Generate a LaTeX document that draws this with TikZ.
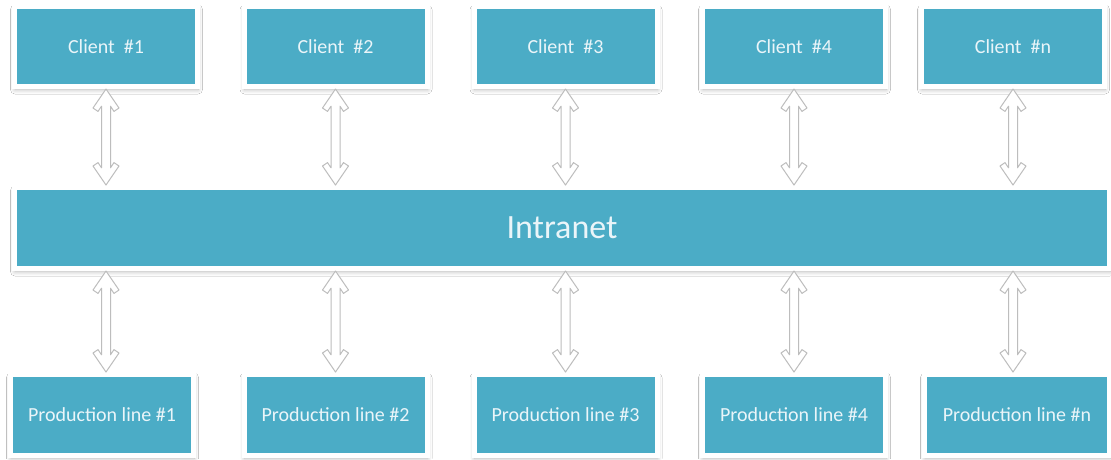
\documentclass[tikz,border=0pt]{standalone}
\usepackage{fontspec}
\setmainfont{Carlito}
\usetikzlibrary{calc,shadows.blur}
\definecolor{boxteal}{HTML}{4BACC6}
\definecolor{boxtext}{HTML}{EAF5F9}
\definecolor{arrowedge}{HTML}{BDBDBD}
\tikzset{
  tealbox/.style={draw=white, line width=5pt, fill=boxteal, text=boxtext,
    inner sep=0pt, minimum width=183pt, minimum height=80pt,
    font=\fontsize{20}{24}\selectfont,
    blur shadow={shadow xshift=0.5pt, shadow yshift=-3pt, shadow opacity=30,
      shadow blur radius=4.5pt, shadow blur steps=10, shadow scale=1.0}},
  bigbox/.style={tealbox, minimum width=1095pt, minimum height=81pt,
    font=\fontsize{34}{40}\selectfont},
  dblarrow/.style={draw=arrowedge, fill=white, line width=1pt, line join=round,
    to path={let \p1=(\tikztostart), \p2=(\tikztotarget) in
      (\x1,\y1) -- ({\x1+13pt},{\y1-19pt}) -- ({\x1+8pt},{\y1-22.4pt})
      -- ({\x1+4.5pt},{\y1-17.2pt}) -- ({\x1+4.5pt},{\y2+17.2pt})
      -- ({\x1+8pt},{\y2+22.4pt}) -- ({\x1+13pt},{\y2+19pt}) -- (\x1,\y2)
      -- ({\x1-13pt},{\y2+19pt}) -- ({\x1-8pt},{\y2+22.4pt})
      -- ({\x1-4.5pt},{\y2+17.2pt}) -- ({\x1-4.5pt},{\y1-17.2pt})
      -- ({\x1-8pt},{\y1-22.4pt}) -- ({\x1-13pt},{\y1-19pt}) -- cycle}}
}
\begin{document}
\begin{tikzpicture}[x=1pt,y=-1pt]
\useasboundingbox (0,0) rectangle (1111,459);
\fill[white] (0,0) rectangle (1111,459);
% clients
\node[tealbox] (c1) at (106,46.5) {Client\ \ \#1};
\node[tealbox] (c2) at (335.5,46.5) {Client\ \ \#2};
\node[tealbox] (c3) at (565.5,46.5) {Client\ \ \#3};
\node[tealbox] (c4) at (794,46.5) {Client\ \ \#4};
\node[tealbox] (c5) at (1013,46.5) {Client\ \ \#n};
% intranet
\node[bigbox] (net) at (562,228) {Intranet};
% production lines
\node[tealbox, minimum height=81pt] (p1) at (102,415) {Production line \#1};
\node[tealbox, minimum height=81pt] (p2) at (335.5,415) {Production line \#2};
\node[tealbox, minimum height=81pt] (p3) at (565.5,415) {Production line \#3};
\node[tealbox, minimum height=81pt] (p4) at (794,415) {Production line \#4};
\node[tealbox, minimum height=81pt, minimum width=185pt] (p5) at (1017,415) {Production line \#n};
% arrows
\foreach \i in {1,...,5}{
  \draw[dblarrow] (c\i.south) to (net.north -| c\i.south);
  \draw[dblarrow] (net.south -| c\i.south) to (p\i.north -| c\i.south);
}
\end{tikzpicture}
\end{document}
